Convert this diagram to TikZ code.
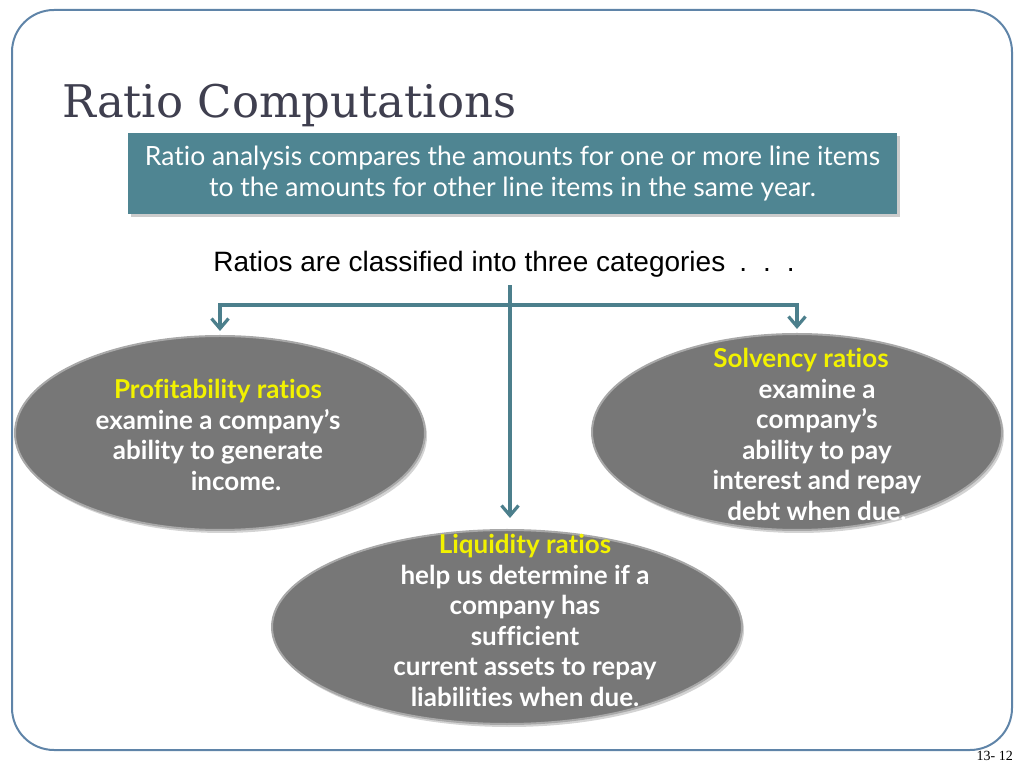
\documentclass[tikz,border=0pt]{standalone}
\usepackage{fontspec}
\setmainfont{Lato}[Ligatures=NoCommon]
\newfontfamily\titlefont{DejaVu Serif}
\newfontfamily\arialfont{Liberation Sans}
\newfontfamily\timesfont{Liberation Serif}
\usetikzlibrary{shapes.geometric,shadows,arrows.meta,positioning}
\definecolor{framecol}{HTML}{5F84A8}
\definecolor{tealbox}{HTML}{4F8592}
\definecolor{linkcol}{HTML}{4C7F8C}
\definecolor{ovalfill}{HTML}{777777}
\definecolor{ovaledge}{HTML}{A8A8A8}
\definecolor{titlecol}{HTML}{3F3F4F}
\definecolor{headcol}{HTML}{F2F200}
\newcommand{\ovalfont}{\fontsize{26}{30.6}\bfseries\selectfont}
\newcommand{\hd}[1]{\textcolor{headcol}{#1}}

\tikzset{
  oval/.style={ellipse, draw=ovaledge, line width=2pt, fill=ovalfill,
    drop shadow={shadow xshift=2pt, shadow yshift=-3pt, opacity=0.35}},
  ovaltxt/.style={text=white, align=center, inner sep=0pt, font=\ovalfont},
  link/.style={draw=linkcol, line width=3.2pt, -{Straight Barb[length=10pt,width=17pt]}},
}

\begin{document}
\begin{tikzpicture}[x=1pt,y=1pt]
   \useasboundingbox (0,0) rectangle (1024,768);
   \draw[framecol, line width=2pt, rounded corners=42pt] (12,18) rectangle (1012,758);

   \node[anchor=base west, inner sep=0pt, text=titlecol,
         font=\titlefont\fontsize{45}{45}\selectfont] (title) at (62,650) {Ratio Computations};
   \node[fill=tealbox, minimum width=769pt, minimum height=81pt, text=white, align=center,
         font={\fontsize{26.5}{31}\selectfont},
         drop shadow={shadow xshift=3pt, shadow yshift=-3pt, opacity=0.4}] (intro) at (512.5,594.5)
         {Ratio analysis compares the amounts for one or more line items\\to the amounts for other line items in the same year.};
   \node[anchor=base, inner sep=0pt, font=\arialfont\fontsize{28}{28}\selectfont] (lead) at (504,496)
         {Ratios are classified into three categories\hspace{14pt}.\hspace{16pt}.\hspace{16pt}.};

   \node[oval, minimum width=410pt, minimum height=194pt] (profit)    at (220,335) {};
   \node[oval, minimum width=410pt, minimum height=196pt] (solvency)  at (797,336) {};
   \node[oval, minimum width=470pt, minimum height=194pt] (liquidity) at (507,141) {};

   \node[ovaltxt, anchor=north] (profittxt) at (218,389)
         {\hd{Profitability ratios}\\examine a company’s\\ability to generate\\\hspace*{36pt}income.};
   \node[ovaltxt, anchor=north] (solvtxt) at (817,420)
         {\hd{Solvency ratios}\hspace*{32pt}\\examine a\hspace*{24pt}\\company’s\\ability to pay\\interest and repay\\debt when due.};
   \node[ovaltxt, anchor=north] (liqtxt) at (525,234)
         {\hd{Liquidity ratios}\\help us determine if a\\company has\\sufficient\\current assets to repay\\liabilities when due.};

   \coordinate (fork) at (510,463);
   \draw[link, shorten <=7pt, shorten >=11pt] (lead.south -| fork) -- (liquidity.north -| fork);
   \draw[link, shorten >=4pt] (fork) -| (profit.north);
   \draw[link, shorten >=4pt] (fork) -| (solvency.north);

   \node[anchor=base east, inner sep=0pt, font=\timesfont\fontsize{14}{14}\selectfont] (pageno) at (1013,8) {13- 12};
\end{tikzpicture}
\end{document}
